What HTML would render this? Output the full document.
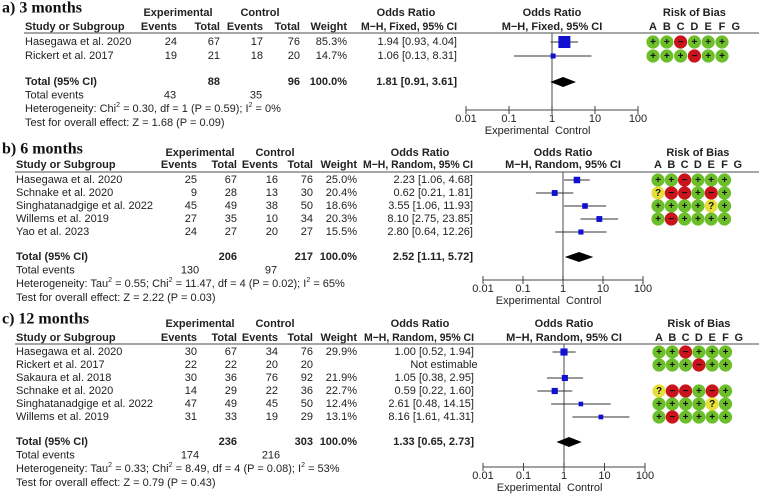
<!DOCTYPE html>
<html><head><meta charset="utf-8"><style>
html,body{margin:0;padding:0;background:#fff;}
svg{display:block;font-family:"Liberation Sans",sans-serif;}
.t{font-size:11px;fill:#222;}
.b{font-weight:bold;}
.ttl{font-family:"Liberation Serif",serif;font-weight:bold;font-size:16px;fill:#111;}
</style></head><body>
<svg id="c" width="759" height="494"></svg>
<script>
// ---- data ----
const aStudies=["Hasegawa et al. 2020","Rickert et al. 2017"];
const aExpEv=[24,19], aExpTot=[67,21], aCtlEv=[17,18], aCtlTot=[76,20];
const aWeight=[85.3,14.7];
const aOR=[1.94,1.06], aLo=[0.93,0.13], aHi=[4.04,8.31];
const aTotal=[1.81,0.91,3.61];
const aRob=[["+","+","-","+","+","+"],["+","+","+","-","+","+"]];

const bStudies=["Hasegawa et al. 2020","Schnake et al. 2020","Singhatanadgige et al. 2022","Willems et al. 2019","Yao et al. 2023"];
const bExpEv=[25,9,45,27,24], bExpTot=[67,28,49,35,27], bCtlEv=[16,13,38,10,20], bCtlTot=[76,30,50,34,27];
const bWeight=[25.0,20.4,18.6,20.3,15.5];
const bOR=[2.23,0.62,3.55,8.10,2.80], bLo=[1.06,0.21,1.06,2.75,0.64], bHi=[4.68,1.81,11.93,23.85,12.26];
const bTotal=[2.52,1.11,5.72];
const bRob=[["+","+","-","+","+","+"],["?","-","-","+","-","+"],["+","+","+","+","?","+"],["+","-","+","+","+","+"],null];

const cStudies=["Hasegawa et al. 2020","Rickert et al. 2017","Sakaura et al. 2018","Schnake et al. 2020","Singhatanadgige et al. 2022","Willems et al. 2019"];
const cExpEv=[30,22,30,14,47,31], cExpTot=[67,22,36,29,49,33], cCtlEv=[34,20,76,22,45,19], cCtlTot=[76,20,92,36,50,29];
const cWeight=[29.9,null,21.9,22.7,12.4,13.1];
const cOR=[1.00,null,1.05,0.59,2.61,8.16], cLo=[0.52,null,0.38,0.22,0.48,1.61], cHi=[1.94,null,2.95,1.60,14.15,41.31];
const cTotal=[1.33,0.65,2.73];
const cRob=[["+","+","-","+","+","+"],["+","+","+","-","+","+"],null,["?","-","-","+","-","+"],["+","+","+","+","?","+"],["+","-","+","+","+","+"]];

const ticks=[0.01,0.1,1,10,100];
const tickLabels=["0.01","0.1","1","10","100"];

const NS="http://www.w3.org/2000/svg";
const svg=document.getElementById('c');
function mk(tag,attrs,parent){const e=document.createElementNS(NS,tag);for(const k in attrs)e.setAttribute(k,attrs[k]);(parent||svg).appendChild(e);return e;}
function txt(x,y,s,anchor,cls,name,parent){const e=mk('text',{x:x,y:y,'text-anchor':anchor||'start','class':cls||'t','dominant-baseline':'central'},parent);e.textContent=s;


return e;}
function f2(v){return v.toFixed(2);}

function panel(P){
  const g=mk('g',{});
  
  
  const X=v=>P.x1+Math.log10(v)*P.dec;
  const L0=P.left;
  txt(2,P.titleY,P.title,'start','ttl','panel-title',g);
  const C=P.cols;
  txt(C.expH,P.h1,"Experimental",'middle','t b','experimental-header',g);
  txt(C.ctlH,P.h1,"Control",'middle','t b','control-header',g);
  txt(C.orH,P.h1,"Odds Ratio",'middle','t b','odds-ratio-header',g);
  txt(P.x1,P.h1,"Odds Ratio",'middle','t b','plot-header',g);
  txt(P.robA+3*P.robStep,P.h1,"Risk of Bias",'middle','t b','risk-of-bias-header',g);
  txt(L0,P.h2,"Study or Subgroup",'start','t b','study-header',g);
  txt(C.ev,P.h2,"Events",'end','t b','exp-events-header',g);
  txt(C.tot,P.h2,"Total",'end','t b','exp-total-header',g);
  txt(C.cev,P.h2,"Events",'end','t b','ctl-events-header',g);
  txt(C.ctot,P.h2,"Total",'end','t b','ctl-total-header',g);
  txt(C.w,P.h2,"Weight",'end','t b','weight-header',g);
  const mh=txt(C.or,P.h2,P.method,'end','t b','method-header',g);
  mh.setAttribute('textLength',P.mlen);
  mh.setAttribute('lengthAdjust','spacingAndGlyphs');
  txt(P.x1,P.h2,P.method,'middle','t b','plot-method-header',g);
  "ABCDEFG".split("").forEach((L,i)=>txt(P.robA+i*P.robStep,P.h2,L,'middle','t b','rob-domain-'+L,g));
  const hl=mk('line',{x1:L0-1,x2:759,y1:P.line,y2:P.line,stroke:'#888','stroke-width':1.5},g);
  
  
  const vl=mk('line',{x1:X(1),x2:X(1),y1:P.line,y2:P.axisY,stroke:'#666','stroke-width':1.2},g);
  
  
  P.studies.forEach((s,i)=>{
    const y=P.rows[i];
    txt(L0,y,s,'start','t','study-name',g);
    txt(C.ev,y,String(P.ev[i]),'end','t','exp-events',g);
    txt(C.tot,y,String(P.tot[i]),'end','t','exp-total',g);
    txt(C.cev,y,String(P.cev[i]),'end','t','ctl-events',g);
    txt(C.ctot,y,String(P.ctot[i]),'end','t','ctl-total',g);
    if(P.w[i]!=null){
      txt(C.w,y,P.w[i].toFixed(1)+"%",'end','t','weight',g);
      txt(C.or,y,f2(P.or[i])+" ["+f2(P.lo[i])+", "+f2(P.hi[i])+"]",'end','t','odds-ratio-ci',g);
      const l=mk('line',{x1:X(P.lo[i]),x2:X(P.hi[i]),y1:y,y2:y,stroke:'#333','stroke-width':1},g);
      
      
      const sz=Math.max(3,1.3*Math.sqrt(P.w[i]));
      const r=mk('rect',{x:X(P.or[i])-sz/2,y:y-sz/2,width:sz,height:sz,fill:'#1010d0'},g);
      
      
    } else {
      txt(C.or-30,y,"Not estimable",'middle','t','not-estimable',g);
    }
    const rb=P.rob[i];
    if(rb){rb.forEach((v,j)=>{
      const cx=P.robA+j*P.robStep;
      const col=v=="+"?"#6cbf2a":v=="-"?"#c8141a":"#e6df3a";
      const ci=mk('circle',{cx:cx,cy:y,r:6.6,fill:col},g);
      
      
      const t=txt(cx,y+0.5,v=="-"?"−":v,'middle','t b','rob-symbol',g);
      t.setAttribute('style','font-size:10px;fill:#111');
    });}
  });
  const ty=P.totY, T=P.total;
  txt(L0,ty,"Total (95% CI)",'start','t b','total-label',g);
  txt(C.tot,ty,String(P.tot.reduce((a,b)=>a+b,0)),'end','t b','exp-total-sum',g);
  txt(C.ctot,ty,String(P.ctot.reduce((a,b)=>a+b,0)),'end','t b','ctl-total-sum',g);
  txt(C.w,ty,"100.0%",'end','t b','total-weight',g);
  txt(C.or,ty,f2(T[0])+" ["+f2(T[1])+", "+f2(T[2])+"]",'end','t b','total-or',g);
  const d=mk('polygon',{points:`${X(T[1])},${ty} ${X(T[0])},${ty-5} ${X(T[2])},${ty} ${X(T[0])},${ty+5}`,fill:'#000'},g);
  
  
  txt(L0,ty+13.5,"Total events",'start','t','total-events-label',g);
  txt(C.ev-7,ty+13.5,String(P.ev.reduce((a,b)=>a+b,0)),'middle','t','exp-total-events',g);
  txt(C.cev-7,ty+13.5,String(P.cev.reduce((a,b)=>a+b,0)),'middle','t','ctl-total-events',g);
  const h=txt(L0,ty+27,"",'start','t','heterogeneity',g); h.innerHTML=P.het;
  txt(L0,ty+41,P.test,'start','t','overall-effect-test',g);
  const ax=mk('line',{x1:X(0.01),x2:X(100),y1:P.axisY,y2:P.axisY,stroke:'#444','stroke-width':1},g);
  
  
  ticks.forEach((v,i)=>{
    const tk=mk('line',{x1:X(v),x2:X(v),y1:P.axisY-4,y2:P.axisY+4,stroke:'#444'},g);
    
    
    txt(X(v),P.axisY+9,tickLabels[i],'middle','t','x-tick-label',g);
  });
  txt(X(1)-3,P.axisY+21,"Experimental",'end','t','favours-experimental',g);
  txt(X(1)+3,P.axisY+21,"Control",'start','t','favours-control',g);
}

panel({name:'panel-3-months',title:'a) 3 months',titleY:8,left:25,h1:13,h2:27,line:33,rows:[42,56],totY:82,axisY:110,
 cols:{expH:178,ctlH:260,orH:406,ev:177,tot:220,cev:263,ctot:300,w:347,or:457},mlen:96,
 x1:552,dec:43,robA:653,robStep:13.8,method:"M−H, Fixed, 95% CI",
 studies:aStudies,ev:aExpEv,tot:aExpTot,cev:aCtlEv,ctot:aCtlTot,w:aWeight,or:aOR,lo:aLo,hi:aHi,total:aTotal,rob:aRob,
 het:'Heterogeneity: Chi<tspan dy="-4" font-size="7">2</tspan><tspan dy="4"> = 0.30, df = 1 (P = 0.59); I</tspan><tspan dy="-4" font-size="7">2</tspan><tspan dy="4"> = 0%</tspan>',
 test:'Test for overall effect: Z = 1.68 (P = 0.09)'});

panel({name:'panel-6-months',title:'b) 6 months',titleY:149,left:16,h1:153,h2:165,line:172,rows:[180,193,206,219,232],totY:257,axisY:280,
 cols:{expH:200,ctlH:275,orH:420,ev:197,tot:237,cev:278,ctot:313,w:357,or:473},mlen:110,
 x1:563,dec:40,robA:658,robStep:13.3,method:"M−H, Random, 95% CI",
 studies:bStudies,ev:bExpEv,tot:bExpTot,cev:bCtlEv,ctot:bCtlTot,w:bWeight,or:bOR,lo:bLo,hi:bHi,total:bTotal,rob:bRob,
 het:'Heterogeneity: Tau<tspan dy="-4" font-size="7">2</tspan><tspan dy="4"> = 0.55; Chi</tspan><tspan dy="-4" font-size="7">2</tspan><tspan dy="4"> = 11.47, df = 4 (P = 0.02); I</tspan><tspan dy="-4" font-size="7">2</tspan><tspan dy="4"> = 65%</tspan>',
 test:'Test for overall effect: Z = 2.22 (P = 0.03)'});

panel({name:'panel-12-months',title:'c) 12 months',titleY:319,left:16,h1:324,h2:338,line:344,rows:[352,365,378,391,404,417],totY:442,axisY:467,
 cols:{expH:200,ctlH:275,orH:420,ev:197,tot:237,cev:278,ctot:313,w:357,or:474},mlen:110,
 x1:564,dec:40.5,robA:659,robStep:13.3,method:"M−H, Random, 95% CI",
 studies:cStudies,ev:cExpEv,tot:cExpTot,cev:cCtlEv,ctot:cCtlTot,w:cWeight,or:cOR,lo:cLo,hi:cHi,total:cTotal,rob:cRob,
 het:'Heterogeneity: Tau<tspan dy="-4" font-size="7">2</tspan><tspan dy="4"> = 0.33; Chi</tspan><tspan dy="-4" font-size="7">2</tspan><tspan dy="4"> = 8.49, df = 4 (P = 0.08); I</tspan><tspan dy="-4" font-size="7">2</tspan><tspan dy="4"> = 53%</tspan>',
 test:'Test for overall effect: Z = 0.79 (P = 0.43)'});
</script>
</body></html>
